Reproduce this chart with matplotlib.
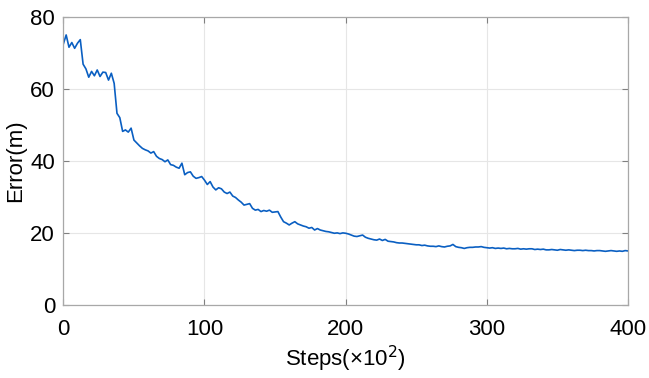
import numpy as np
import matplotlib
matplotlib.use("Agg")
import matplotlib.pyplot as plt

# error curve, one value every 2 steps (x100)
steps = np.arange(0, 401, 2)
error = [
    72.4, 74.9, 71.5, 72.8, 71.2, 72.6, 73.6, 66.8, 65.5, 63.2,
    64.8, 63.6, 65.2, 63.4, 64.6, 64.5, 62.4, 64.3, 61.5, 53.2,
    52.0, 48.2, 48.6, 48.0, 49.1, 45.8, 45.0, 44.2, 43.5, 43.1,
    42.8, 42.2, 42.6, 41.3, 40.7, 40.4, 39.8, 40.3, 39.0, 38.8,
    38.3, 38.0, 39.4, 36.2, 36.8, 37.0, 35.8, 35.2, 35.4, 35.7,
    34.7, 33.5, 34.3, 32.8, 32.0, 32.6, 32.3, 31.4, 31.0, 31.4,
    30.3, 29.9, 29.2, 28.6, 27.8, 28.0, 28.2, 26.9, 26.4, 26.6,
    26.0, 26.3, 26.1, 26.4, 25.8, 25.9, 26.0, 24.5, 23.2, 22.8,
    22.3, 22.8, 23.2, 22.6, 22.3, 22.0, 21.8, 21.4, 21.6, 20.9,
    21.3, 20.9, 20.7, 20.5, 20.4, 20.2, 20.0, 20.1, 19.9, 20.1,
    20.0, 19.8, 19.5, 19.2, 19.1, 19.3, 19.5, 18.9, 18.6, 18.4,
    18.2, 18.1, 18.4, 18.0, 18.3, 17.8, 17.7, 17.6, 17.4, 17.3,
    17.3, 17.2, 17.1, 17.0, 16.9, 16.8, 16.8, 16.6, 16.7, 16.5,
    16.4, 16.4, 16.3, 16.5, 16.3, 16.2, 16.4, 16.5, 16.9, 16.3,
    16.1, 16.0, 15.8, 16.0, 16.1, 16.1, 16.2, 16.2, 16.3, 16.1,
    16.0, 15.9, 16.0, 15.8, 15.9, 15.8, 15.9, 15.7, 15.8, 15.7,
    15.7, 15.8, 15.6, 15.7, 15.6, 15.7, 15.7, 15.5, 15.6, 15.5,
    15.6, 15.4, 15.4, 15.5, 15.4, 15.3, 15.5, 15.4, 15.3, 15.4,
    15.3, 15.2, 15.3, 15.3, 15.2, 15.3, 15.2, 15.2, 15.1, 15.2,
    15.2, 15.1, 15.0, 15.1, 15.2, 15.1, 15.0, 15.1, 15.0, 15.2,
    15.1,
]
x_ticks = [0, 100, 200, 300, 400]
y_ticks = [0, 20, 40, 60, 80]

plt.rcParams['font.family'] = ['Liberation Sans', 'DejaVu Sans']

fig = plt.figure(figsize=(6.49, 3.78), dpi=100)
ax = fig.add_axes([0.0976, 0.1918, 0.870, 0.7645])

ax.plot(steps, error, color='#0a5fc2', linewidth=1.2)

ax.set_xlim(0, 400)
ax.set_ylim(0, 80)
ax.set_xticks(x_ticks)
ax.set_yticks(y_ticks)
ax.grid(True, color='#e6e6e6', linewidth=0.8)
ax.set_axisbelow(True)
ax.tick_params(direction='in', length=4, width=0.8, color='#808080',
               top=True, right=True, labelsize=16)
ax.tick_params(axis='x', pad=9.5)
ax.tick_params(axis='y', pad=6)
for s in ax.spines.values():
    s.set_color('#a8a8a8')
    s.set_linewidth(0.9)

ax.set_xlabel('Steps(×10$^{2}$)', fontsize=16, labelpad=3)
ax.set_ylabel('Error(m)', fontsize=16, labelpad=3)

fig.savefig('out.png', dpi=100)
